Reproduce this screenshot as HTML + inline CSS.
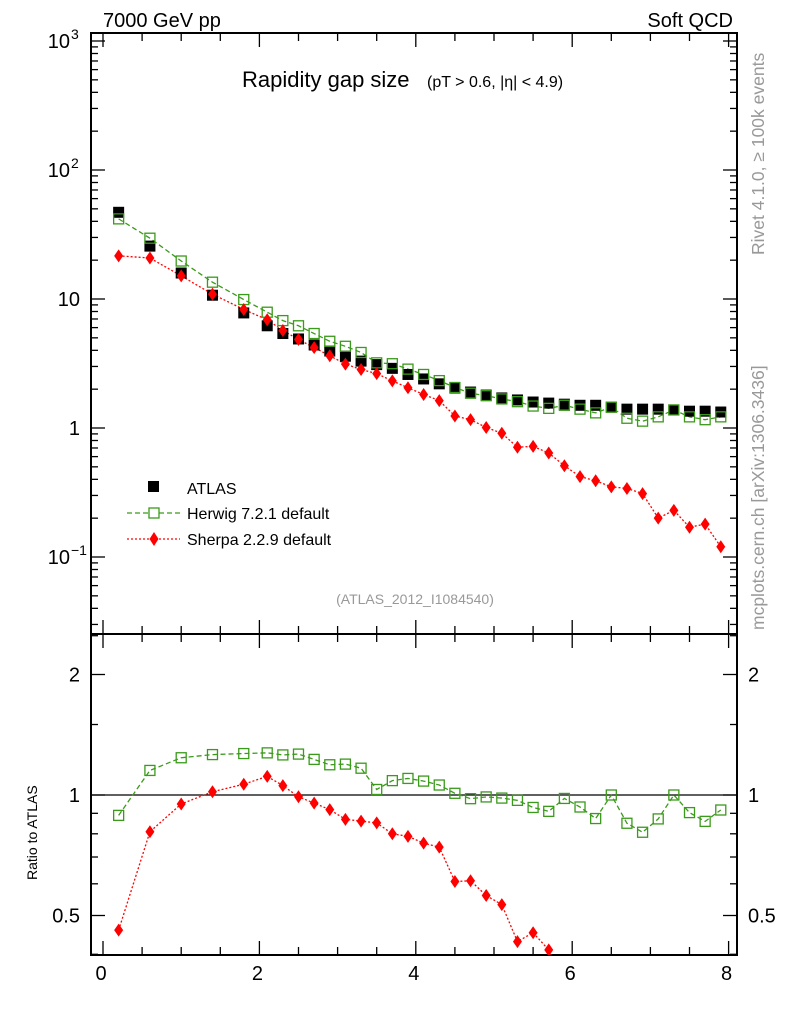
<!DOCTYPE html>
<html><head><meta charset="utf-8"><style>
html,body{margin:0;background:#fff;overflow:hidden;width:786px;height:1024px}
svg{display:block}
svg text{font-family:"Liberation Sans",sans-serif}
</style></head><body>
<svg id="c" width="786" height="1024" xmlns="http://www.w3.org/2000/svg">
<g id="g"></g>
</svg>
<script>
const xs=[0.2,0.6,1.0,1.4,1.8,2.1,2.3,2.5,2.7,2.9,3.1,3.3,3.5,3.7,3.9,4.1,4.3,4.5,4.7,4.9,5.1,5.3,5.5,5.7,5.9,6.1,6.3,6.5,6.7,6.9,7.1,7.3,7.5,7.7,7.9];
const atlas=[47,25.7,15.9,10.7,7.8,6.2,5.4,4.9,4.4,3.95,3.6,3.3,3.1,2.9,2.6,2.4,2.2,2.04,1.9,1.8,1.71,1.65,1.59,1.56,1.53,1.5,1.5,1.45,1.4,1.4,1.4,1.38,1.35,1.35,1.33];
const herwig=[41.8,29.6,19.7,13.5,9.9,7.9,6.8,6.2,5.4,4.7,4.3,3.85,3.2,3.15,2.86,2.6,2.33,2.06,1.86,1.78,1.68,1.6,1.48,1.42,1.5,1.4,1.31,1.45,1.19,1.13,1.22,1.38,1.22,1.16,1.22];
const sherpa=[21.6,20.8,15.1,10.9,8.3,6.9,5.7,4.85,4.2,3.63,3.13,2.84,2.64,2.32,2.05,1.82,1.63,1.24,1.16,1.01,0.91,0.71,0.72,0.64,0.51,0.42,0.39,0.35,0.34,0.31,0.20,0.23,0.17,0.18,0.12];
const xTicks=[0,2,4,6,8];
const L=91,R=737,T=33,M=634,B=955;
const X=v=>103+v*78.2;
const Y=v=>428-129*Math.log10(v);
const YR=r=>795-120.5*Math.log2(r);
const NS="http://www.w3.org/2000/svg";
const g=document.getElementById('g');
function el(t,a,txt){const e=document.createElementNS(NS,t);for(const k in a)e.setAttribute(k,a[k]);if(txt!==undefined)e.textContent=txt;g.appendChild(e);return e;}
const defs=el('defs',{});
defs.innerHTML='<clipPath id="cm"><rect x="91" y="33" width="646" height="601"/></clipPath><clipPath id="cr"><rect x="91" y="634" width="646" height="321"/></clipPath>';
let f=el('rect',{x:L,y:T,width:R-L,height:M-T,fill:'none',stroke:'#000','stroke-width':2});

f=el('rect',{x:L,y:M,width:R-L,height:B-M,fill:'none',stroke:'#000','stroke-width':2});

for(let v=0;v<=8.01;v+=0.5){const maj=Math.abs(v-Math.round(v/2)*2)<1e-6;const len=maj?14:8;
 for(const [y0,d] of [[M,-1],[M,1],[B,-1],[T,1]]){el('line',{x1:X(v),x2:X(v),y1:y0,y2:y0+d*len,stroke:'#000','stroke-width':1.3});}}
xTicks.forEach(v=>{const t=el('text',{x:X(v)-2,y:980,'font-size':20,'text-anchor':'middle'},String(v));});
for(let d=-2;d<=3;d++){for(let m=1;m<10;m++){const v=m*Math.pow(10,d);const y=Y(v);if(y<T||y>M)continue;const len=m==1?14:7;
 el('line',{x1:L,x2:L+len,y1:y,y2:y,stroke:'#000','stroke-width':1.3});el('line',{x1:R,x2:R-len,y1:y,y2:y,stroke:'#000','stroke-width':1.3});}}
const yl=[['10','3',Y(1000)],['10','2',Y(100)],['10','',Y(10)],['1','',Y(1)],['10','−1',Y(0.1)]];
yl.forEach(([b,e,y])=>{const t=el('text',{x:e?70:80,y:y+7,'font-size':20,'text-anchor':'end'},b);
 if(e){const s=el('text',{x:71,y:y-2,'font-size':14,'text-anchor':'start'},e);}});
[0.4,0.5,0.6,0.7,0.8,0.9,1,1.5,2,2.5].forEach(r=>{const y=YR(r);if(y<M||y>B)return;const len=(r==0.5||r==1||r==2)?14:7;
 el('line',{x1:L,x2:L+len,y1:y,y2:y,stroke:'#000','stroke-width':1.3});el('line',{x1:R,x2:R-len,y1:y,y2:y,stroke:'#000','stroke-width':1.3});});
[[2,'2'],[1,'1'],[0.5,'0.5']].forEach(([r,s])=>{let t=el('text',{x:80,y:YR(r)+7,'font-size':20,'text-anchor':'end'},s);
 t=el('text',{x:748,y:YR(r)+7,'font-size':20},s);});
el('line',{x1:L,x2:R,y1:YR(1),y2:YR(1),stroke:'#000','stroke-width':1.3});
const gm=el('g',{'clip-path':'url(#cm)'});const gr=el('g',{'clip-path':'url(#cr)'});
function add(par,t,a,name){const e=document.createElementNS(NS,t);for(const k in a)e.setAttribute(k,a[k]);par.appendChild(e);return e;}
function poly(par,vals,fy,col,dash,name){add(par,'polyline',{points:vals.map((v,i)=>X(xs[i])+','+fy(v)).join(' '),fill:'none',stroke:col,'stroke-width':1.3,'stroke-dasharray':dash},name);}
poly(gm,herwig,Y,'#3a9a1a','5,3','herwig-line');
poly(gm,sherpa,Y,'#f00','2,2','sherpa-line');
atlas.forEach((v,i)=>add(gm,'rect',{x:X(xs[i])-5.5,y:Y(v)-5.5,width:11,height:11,fill:'#000'},'atlas-point'));
herwig.forEach((v,i)=>add(gm,'rect',{x:X(xs[i])-5,y:Y(v)-5,width:10,height:10,fill:'none',stroke:'#3a9a1a','stroke-width':1.3},'herwig-point'));
sherpa.forEach((v,i)=>{const x=X(xs[i]),y=Y(v);add(gm,'polygon',{points:`${x},${y-6.5} ${x+4.5},${y} ${x},${y+6.5} ${x-4.5},${y}`,fill:'#f00'},'sherpa-point');});
const hr=herwig.map((v,i)=>v/atlas[i]),sr=sherpa.map((v,i)=>v/atlas[i]);
poly(gr,hr,YR,'#3a9a1a','5,3','herwig-ratio-line');
poly(gr,sr,YR,'#f00','2,2','sherpa-ratio-line');
hr.forEach((v,i)=>add(gr,'rect',{x:X(xs[i])-5,y:YR(v)-5,width:10,height:10,fill:'none',stroke:'#3a9a1a','stroke-width':1.3},'herwig-ratio-point'));
sr.forEach((v,i)=>{const x=X(xs[i]),y=YR(v);add(gr,'polygon',{points:`${x},${y-6.5} ${x+4.5},${y} ${x},${y+6.5} ${x-4.5},${y}`,fill:'#f00'},'sherpa-ratio-point');});
function txt(x,y,s,sz,name,extra){const t=el('text',Object.assign({x:x,y:y,'font-size':sz},extra||{}),s);return t;}
txt(103,27,'7000 GeV pp',20,'energy-label');
txt(733,27,'Soft QCD',20,'process-label',{'text-anchor':'end'});
txt(242,87,'Rapidity gap size',22,'plot-title');
txt(427,87,'(pT > 0.6, |η| < 4.9)',16,'plot-subtitle');
txt(415,604,'(ATLAS_2012_I1084540)',14,'analysis-id',{'text-anchor':'middle',fill:'#999'});
txt(0,0,'Ratio to ATLAS',14,'ratio-axis-title',{transform:'translate(37,880) rotate(-90)'});
txt(0,0,'Rivet 4.1.0, ≥ 100k events',17.5,'rivet-label',{transform:'translate(764,255) rotate(-90)',fill:'#999'});
txt(0,0,'mcplots.cern.ch [arXiv:1306.3436]',17.5,'mcplots-label',{transform:'translate(764,630) rotate(-90)',fill:'#999'});
let e=el('rect',{x:148,y:481,width:11,height:11,fill:'#000'});
txt(187,494,'ATLAS',16,'legend-atlas');
e=el('line',{x1:127,x2:180,y1:513,y2:513,stroke:'#3a9a1a','stroke-dasharray':'5,3','stroke-width':1.3});
e=el('rect',{x:149,y:508,width:10,height:10,fill:'#fff',stroke:'#3a9a1a','stroke-width':1.3});
txt(187,519,'Herwig 7.2.1 default',16,'legend-herwig');
e=el('line',{x1:127,x2:180,y1:539,y2:539,stroke:'#f00','stroke-dasharray':'2,2','stroke-width':1.3});
e=el('polygon',{points:'154,532 158.5,539 154,546 149.5,539',fill:'#f00'});
txt(187,545,'Sherpa 2.2.9 default',16,'legend-sherpa');
</script>
</body></html>
